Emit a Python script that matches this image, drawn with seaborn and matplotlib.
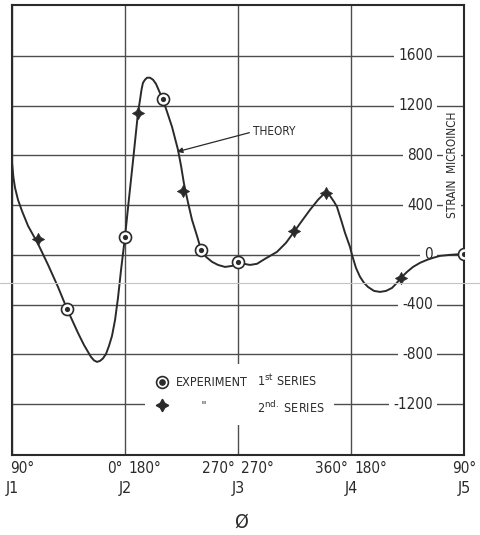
import matplotlib
matplotlib.use("Agg")
import matplotlib.pyplot as plt
import seaborn as sns
from matplotlib import font_manager as fm
from matplotlib.lines import Line2D
from matplotlib.legend_handler import HandlerTuple

# phi measured in joint spacings (J1 = 0 ... J5 = 4), strain in microinch
theory_phi = [0.000, 0.013, 0.027, 0.053, 0.088, 0.142, 0.230, 0.319, 0.407,
              0.487, 0.584, 0.637, 0.673, 0.699, 0.726, 0.752, 0.779, 0.805,
              0.832, 0.858, 0.885, 0.912, 0.938, 0.965, 1.000, 1.035, 1.071,
              1.115, 1.133, 1.146, 1.159, 1.177, 1.195, 1.221, 1.248, 1.274,
              1.301, 1.336, 1.372, 1.416, 1.469, 1.496, 1.522, 1.558, 1.593,
              1.637, 1.673, 1.717, 1.770, 1.823, 1.885, 1.947, 2.000, 2.053,
              2.106, 2.168, 2.239, 2.345, 2.425, 2.496, 2.566, 2.637, 2.708,
              2.752, 2.779, 2.814, 2.850, 2.876, 2.912, 2.947, 2.991, 3.009,
              3.044, 3.080, 3.115, 3.150, 3.204, 3.257, 3.310, 3.363, 3.398,
              3.442, 3.496, 3.549, 3.611, 3.673, 3.726, 3.788, 3.876, 4.000]
theory_strain = [741, 620, 539, 443, 354, 233, 89, -80, -258,
                 -435, -628, -725, -781, -821, -849, -861, -853, -833,
                 -797, -733, -652, -523, -346, -121, 145, 451, 757,
                 1143, 1247, 1328, 1384, 1409, 1425, 1425, 1409, 1376,
                 1320, 1248, 1151, 1030, 845, 716, 572, 419, 282,
                 153, 40, -16, -56, -81, -97, -89, -64, -72,
                 -81, -72, -32, 24, 97, 185, 274, 362, 443,
                 483, 499, 475, 427, 386, 282, 177, 64, 0,
                 -105, -177, -225, -258, -290, -298, -290, -266, -233,
                 -185, -137, -97, -64, -40, -24, -8, 0, 8]

exp_phi = [0.489, 1.000, 1.339, 1.673, 2.003, 4.000]
exp_strain = [-437, 145, 1250, 40, -54, 6]

s2_phi = [0.227, 1.118, 1.516, 2.498, 2.779, 3.442]
s2_strain = [126, 1141, 510, 188, 497, -183]

strain_ticks = [-1200, -800, -400, 0, 400, 800, 1200, 1600]
joint_labels = ["J1", "J2", "J3", "J4", "J5"]
angle_before = ["", "0°", "270°", "360°", ""]
angle_after = ["90°", "180°", "270°", "180°", "90°"]

ink = "#2a2a2a"
grid_c = "#4d4d4d"

sns.set_style("white")
plt.rcParams["font.family"] = ["Liberation Sans", "DejaVu Sans"]

# look for a narrow sans face, the drawing uses condensed lettering
narrow = None
for f in sorted(fm.fontManager.ttflist, key=lambda f: f.fname):
    low = f.fname.lower().split("/")[-1]
    if not ("condensed" in low or "narrow" in low):
        continue
    if "sans" not in low or "mono" in low or "cjk" in low:
        continue
    if any(w in low for w in ["bold", "italic", "semi", "extra", "ultra",
                              "light", "medium", "black", "thin", "oblique"]):
        continue
    narrow = f.fname
    if "liberation" in low or "dejavu" in low:
        break


def fp(size):
    if narrow:
        return fm.FontProperties(fname=narrow, size=size)
    return fm.FontProperties(family=["Liberation Sans", "DejaVu Sans"],
                             size=size)


fig = plt.figure(figsize=(4.8, 5.35), dpi=100)
ax = fig.add_axes([12 / 480, 80 / 535, 452 / 480, 450 / 535])

sns.lineplot(x=theory_phi, y=theory_strain, ax=ax, color=ink, lw=1.4,
             sort=False, zorder=3)
sns.scatterplot(x=exp_phi, y=exp_strain, ax=ax, marker="o", s=75,
                color="white", edgecolor=ink, linewidth=1.2, zorder=4)
sns.scatterplot(x=exp_phi, y=exp_strain, ax=ax, marker="o", s=14,
                color=ink, linewidth=0, zorder=5)
sns.scatterplot(x=s2_phi, y=s2_strain, ax=ax, marker=(4, 1, 0), s=75,
                color=ink, edgecolor=ink, linewidth=0.6, zorder=5)

ax.set_xlim(0, 4)
ax.set_ylim(-1610, 2010)
ax.set_xticks(range(5))
ax.set_xticklabels(joint_labels, fontproperties=fp(11.5), color=ink)
ax.set_yticks(strain_ticks)
ax.tick_params(length=0, labelleft=False)
ax.tick_params(axis="x", pad=19)
ax.set_axisbelow(True)
ax.grid(True, color=grid_c, lw=1.0)
for s in ax.spines.values():
    s.set_visible(True)
    s.set_color(ink)
    s.set_linewidth(1.5)

# strain values written inside the right-hand panel
for v in strain_ticks:
    ax.text(3.725, v, f"{v}", ha="right", va="center", fontproperties=fp(11),
            color=ink, zorder=2,
            bbox=dict(fc="white", ec="none", pad=3))
ax.text(3.894, 725, "STRAIN  MICROINCH", rotation=90, ha="center",
        va="center", fontproperties=fp(8.5), color=ink, zorder=2,
        bbox=dict(fc="white", ec="none", pad=1.5))

# angle labels under each joint
xt = ax.get_xaxis_transform()
for i in range(5):
    if angle_before[i]:
        ax.text(i - 0.025, -0.03, angle_before[i], transform=xt, ha="right",
                va="center", fontproperties=fp(11), color=ink)
    if i == 0:
        ax.text(-0.02, -0.03, angle_after[i], transform=xt, ha="left",
                va="center", fontproperties=fp(11), color=ink)
    elif i == 4:
        ax.text(4.0, -0.03, angle_after[i], transform=xt, ha="center",
                va="center", fontproperties=fp(11), color=ink)
    else:
        ax.text(i + 0.03, -0.03, angle_after[i], transform=xt, ha="left",
                va="center", fontproperties=fp(11), color=ink)

fig.text(241 / 480, 0.024, "Ø", ha="center", va="center",
         fontproperties=fp(14), color=ink)

ax.annotate("THEORY", xy=(1.46, 829), xytext=(2.13, 990), ha="left",
            va="center", fontproperties=fp(8.5), color=ink,
            arrowprops=dict(arrowstyle="-|>", color=ink, lw=0.9,
                            mutation_scale=8, shrinkA=0, shrinkB=0,
                            relpos=(0, 0.5)))

h_exp = (Line2D([], [], ls="none", marker="o", ms=8.5, mfc="white",
                mec=ink, mew=1.2),
         Line2D([], [], ls="none", marker="o", ms=3.8, mfc=ink, mec=ink))
h_s2 = Line2D([], [], ls="none", marker=(4, 1, 0), ms=9, color=ink)
blank = Line2D([], [], ls="none")
leg = ax.legend(handles=[h_exp, h_s2, blank, blank],
                labels=["EXPERIMENT", '       "',
                        r"1$^{\mathrm{st}}$ SERIES",
                        r"2$^{\mathrm{nd.}}$ SERIES"],
                ncol=2, handler_map={tuple: HandlerTuple(ndivide=1)},
                loc="upper left", bbox_to_anchor=(0.281, 0.2156),
                frameon=True, fancybox=False, framealpha=1,
                edgecolor="none", facecolor="white", prop=fp(9),
                handlelength=1.2, handletextpad=0.5, columnspacing=-1.0,
                labelspacing=0.85, borderpad=0.75)
for t in leg.get_texts():
    t.set_color(ink)
leg.set_zorder(6)

# faint fold line of the scanned sheet
fig.add_artist(Line2D([0, 1], [0.471, 0.471], transform=fig.transFigure,
                      color="#c4c4c4", lw=0.8))

fig.savefig("out.png", dpi=100, facecolor="white")
